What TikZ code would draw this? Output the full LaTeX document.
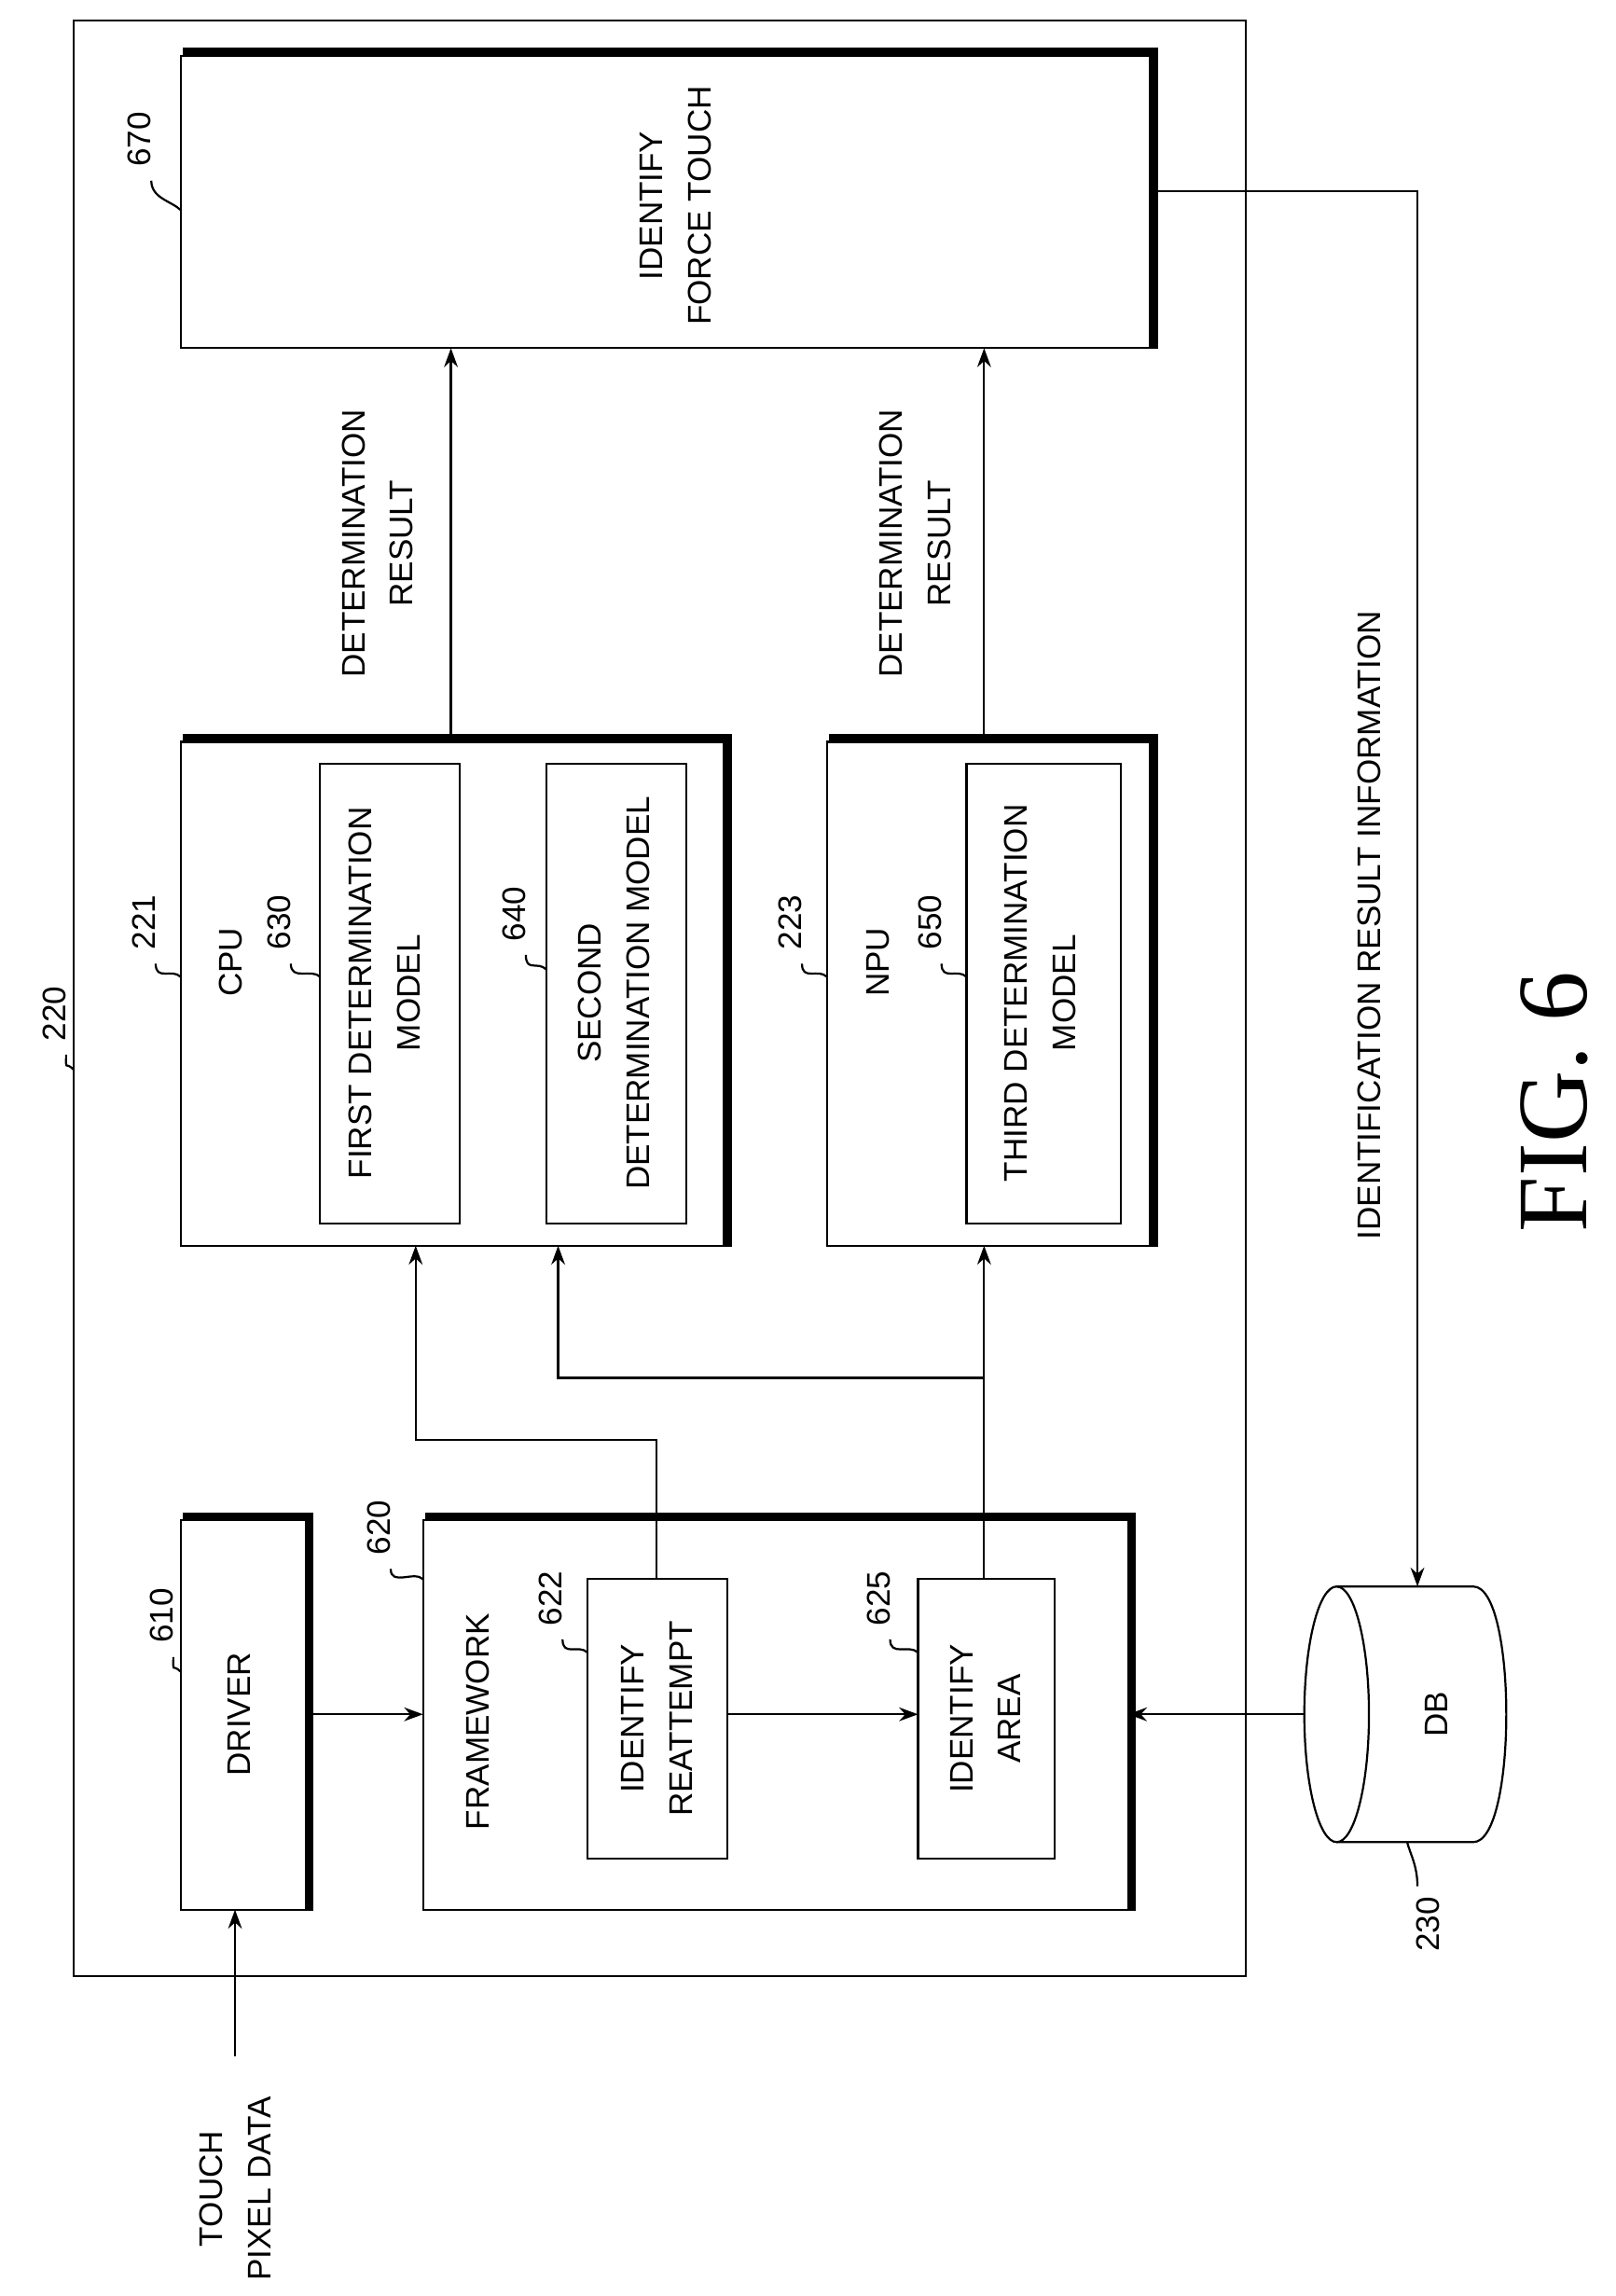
\documentclass[tikz,border=0pt]{standalone}
\usepackage{fontspec}
\setmainfont{Liberation Sans}
\newfontfamily\figfont{Liberation Serif}
\usetikzlibrary{fit,arrows.meta}
\begin{document}
\begin{tikzpicture}[x=0.03cm,y=-0.03cm]
	\tikzstyle{boite}=[draw,line width=1.2pt,inner sep=0pt]
	\tikzstyle{fleche}=[line width=1.2pt,-{Stealth[length=11pt,width=8pt]}]
	\tikzstyle{ligne}=[line width=1.2pt]
	\tikzstyle{ombre}=[line width=4pt]
	\tikzstyle{texte}=[rotate=90,align=center,font=\fontsize{19}{28}\selectfont]
	\tikzstyle{repere}=[rotate=90,font=\fontsize{19}{22}\selectfont]
	\def\Ombre#1{\draw[ombre] ([shift={(2pt,2pt)}]#1.north west)--([shift={(2pt,2pt)}]#1.north east)--([shift={(2pt,0pt)}]#1.south east);}
	\def\Repere#1#2#3#4#5{\node[repere] at (#1,#2) {#3};
		\draw[ligne] (#1+8,#2+28) .. controls (#1+8,#2+40) and (#4-6,#5-6) .. (#4,#5);}
	\useasboundingbox (0,0) rectangle (1100,1563);
	% outer box
	\node[boite,fit={(50,14)(848,1345)}] (U) {};
	\Repere{37}{690}{220}{50}{728}
	% identify force touch
	\node[boite,fit={(123,38)(783,237)}] (F) {};
	\Ombre{F}
	\node[texte] at (460,140) {IDENTIFY\\FORCE TOUCH};
	\Repere{95}{95}{670}{123}{143}
	% cpu
	\node[boite,fit={(123,505)(493,848)}] (C) {};
	\Ombre{C}
	\node[texte] at (157,655) {CPU};
	\Repere{98}{628}{221}{123}{665}
	\node[boite,fit={(218,520)(313,833)}] (M1) {};
	\node[texte] at (262,676) {FIRST DETERMINATION\\MODEL};
	\Repere{190}{628}{630}{218}{665}
	\node[boite,fit={(372,520)(467,833)}] (M2) {};
	\node[texte] at (418,676) {SECOND\\DETERMINATION MODEL};
	\Repere{350}{622}{640}{372}{660}
	% npu
	\node[boite,fit={(563,505)(783,848)}] (N) {};
	\Ombre{N}
	\node[texte] at (598,655) {NPU};
	\Repere{538}{628}{223}{563}{665}
	\node[boite,fit={(658,520)(763,833)}] (M3) {};
	\node[texte] at (708,676) {THIRD DETERMINATION\\MODEL};
	\Repere{633}{628}{650}{658}{665}
	% results
	\draw[fleche] (307,505)--(307,237);
	\node[texte] at (257,370) {DETERMINATION\\RESULT};
	\draw[fleche] (670,505)--(670,237);
	\node[texte] at (623,370) {DETERMINATION\\RESULT};
	% driver
	\node[boite,fit={(123,1035)(208,1300)}] (D) {};
	\Ombre{D}
	\node[texte] at (163,1167) {DRIVER};
	\Repere{110}{1100}{610}{123}{1138}
	% framework
	\node[boite,fit={(288,1035)(768,1300)}] (W) {};
	\Ombre{W}
	\node[texte] at (325,1172) {FRAMEWORK};
	\Repere{258}{1040}{620}{288}{1075}
	\node[boite,fit={(400,1075)(495,1265)}] (R) {};
	\node[texte] at (447,1170) {IDENTIFY\\REATTEMPT};
	\Repere{375}{1088}{622}{400}{1125}
	\node[boite,fit={(625,1075)(718,1265)}] (A) {};
	\node[texte] at (671,1170) {IDENTIFY\\AREA};
	\Repere{598}{1088}{625}{625}{1125}
	% connections
	\node[texte] at (160,1490) {TOUCH\\PIXEL DATA};
	\draw[fleche] (160,1400)--(160,1300);
	\draw[fleche] (208,1167)--(288,1167);
	\draw[fleche] (495,1167)--(625,1167);
	\draw[fleche] (447,1075)--(447,980)--(283,980)--(283,848);
	\draw[fleche] (670,1075)--(670,848);
	\draw[fleche] (670,938)--(380,938)--(380,848);
	% db
	\coordinate (DB) at (888,1167);
	\draw[ligne] (910,1167) ellipse [x radius=22,y radius=87];
	\draw[ligne] (910,1080)--(1003,1080) .. controls (1033,1080) and (1033,1254) .. (1003,1254)--(910,1254);
	\node[texte] at (978,1167) {DB};
	\node[repere] at (972,1310) {230};
	\draw[ligne] (965,1284) .. controls (965,1270) and (960,1262) .. (958,1254);
	\draw[fleche] (DB)--(768,1167);
	\draw[fleche] (783,130)--(965,130)--(965,1080);
	\node[texte] at (932,630) {IDENTIFICATION RESULT INFORMATION};
	\node[rotate=90,font=\figfont\fontsize{58}{66}\selectfont] at (1058,750) {FIG. 6};
\end{tikzpicture}
\end{document}
